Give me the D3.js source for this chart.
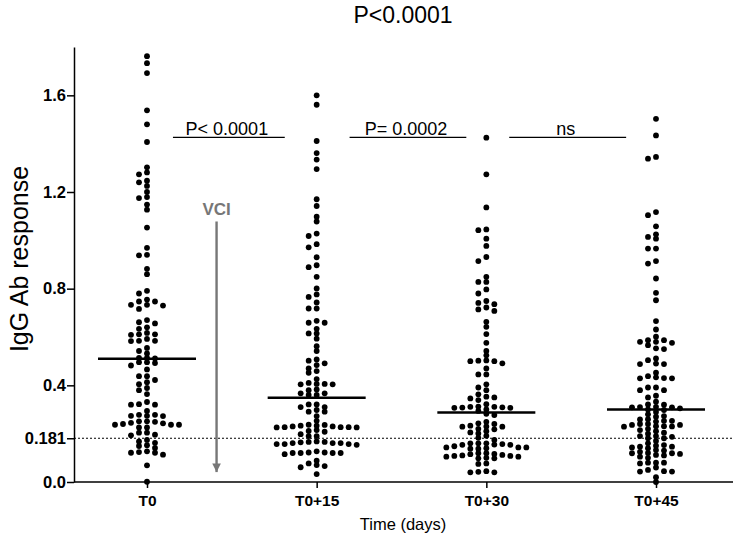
<!DOCTYPE html>
<html><head><meta charset="utf-8">
<script src="https://cdn.jsdelivr.net/npm/d3@7"></script>
<style>
body{margin:0;background:#fff}
svg{display:block}
text{font-family:"Liberation Sans",Arial,sans-serif}
</style>
</head><body>
<svg id="c" width="733" height="539"></svg>
<script>
const categories = ["T0", "T0+15", "T0+30", "T0+45"];

const valuesT0 = [1.762,1.733,1.692,1.538,1.480,1.407,1.302,1.281,1.273,1.247,1.240,1.225,1.200,1.179,1.175,1.148,1.127,1.053,0.969,0.940,0.938,0.882,0.860,0.791,0.780,0.755,0.747,0.747,0.733,0.733,0.730,0.716,0.670,0.661,0.656,0.640,0.634,0.617,0.611,0.611,0.609,0.592,0.584,0.584,0.583,0.555,0.542,0.532,0.514,0.514,0.511,0.496,0.496,0.492,0.482,0.466,0.438,0.438,0.422,0.413,0.405,0.389,0.380,0.364,0.331,0.322,0.320,0.320,0.294,0.278,0.278,0.274,0.274,0.273,0.251,0.251,0.249,0.245,0.243,0.240,0.237,0.237,0.237,0.226,0.226,0.204,0.204,0.196,0.193,0.174,0.168,0.162,0.152,0.149,0.141,0.127,0.124,0.121,0.121,0.113,0.069,0.001];

const valuesT15 = [1.600,1.561,1.411,1.361,1.334,1.295,1.170,1.142,1.098,1.078,1.028,1.018,0.984,0.971,0.930,0.897,0.889,0.849,0.801,0.776,0.766,0.743,0.718,0.718,0.659,0.659,0.667,0.634,0.615,0.593,0.615,0.562,0.542,0.502,0.507,0.491,0.484,0.470,0.459,0.452,0.426,0.406,0.404,0.404,0.406,0.410,0.383,0.380,0.367,0.360,0.360,0.367,0.321,0.310,0.298,0.291,0.291,0.310,0.321,0.273,0.253,0.236,0.233,0.230,0.227,0.227,0.226,0.227,0.226,0.230,0.233,0.237,0.208,0.198,0.211,0.215,0.190,0.190,0.164,0.161,0.157,0.161,0.166,0.157,0.154,0.157,0.161,0.166,0.168,0.122,0.120,0.127,0.120,0.120,0.120,0.122,0.115,0.088,0.070,0.066,0.077,0.061,0.033];

const valuesT30 = [1.425,1.273,1.136,1.045,1.042,1.007,0.977,0.931,0.914,0.849,0.828,0.828,0.797,0.780,0.749,0.741,0.736,0.722,0.714,0.708,0.663,0.642,0.612,0.576,0.542,0.524,0.503,0.500,0.491,0.502,0.470,0.445,0.445,0.404,0.391,0.380,0.363,0.353,0.339,0.346,0.500,0.350,0.322,0.311,0.309,0.307,0.307,0.311,0.312,0.308,0.300,0.277,0.294,0.282,0.249,0.243,0.233,0.218,0.229,0.229,0.201,0.205,0.191,0.183,0.240,0.230,0.220,0.210,0.174,0.160,0.160,0.157,0.154,0.154,0.160,0.143,0.143,0.140,0.138,0.138,0.143,0.155,0.148,0.110,0.108,0.105,0.119,0.116,0.119,0.098,0.098,0.105,0.112,0.115,0.100,0.108,0.077,0.075,0.045,0.040,0.040,0.042];

const valuesT45 = [1.503,1.434,1.338,1.345,1.117,1.104,1.058,1.014,1.007,1.025,0.966,0.966,0.914,0.904,0.842,0.783,0.752,0.666,0.631,0.580,0.601,0.587,0.587,0.566,0.553,0.576,0.511,0.504,0.488,0.488,0.452,0.438,0.429,0.429,0.433,0.391,0.380,0.391,0.357,0.332,0.321,0.311,0.309,0.305,0.298,0.309,0.273,0.259,0.253,0.253,0.236,0.231,0.204,0.236,0.229,0.231,0.215,0.190,0.181,0.181,0.187,0.143,0.132,0.119,0.146,0.146,0.153,0.112,0.105,0.119,0.116,0.125,0.080,0.080,0.077,0.050,0.043,0.043,0.000,0.580,0.490,0.430,0.380,0.310,0.300,0.320,0.260,0.250,0.230,0.220,0.240,0.200,0.190,0.150,0.140,0.120,0.130,0.110,0.080,0.045,0.020,0.550,0.350,0.290,0.280,0.270,0.240,0.210,0.170,0.160,0.100,0.060];

const groupValues = [valuesT0, valuesT15, valuesT30, valuesT45];
const groupMeans = [0.510, 0.349, 0.288, 0.300];

const yTicks = [0, 0.181, 0.4, 0.8, 1.2, 1.6];
const yTickLabels = ["0.0", "0.181", "0.4", "0.8", "1.2", "1.6"];
const cutoff = 0.181;

const compLabels = ["P< 0.0001", "P= 0.0002", "ns"];
const compStart = [0.153, 1.194, 2.135];
const compEnd = [0.812, 1.882, 2.824];
const compValue = 1.426;

const titleText = "P<0.0001";
const yLabel = "IgG Ab response";
const xLabel = "Time (days)";
const arrowLabel = "VCI";
const arrowPos = 0.41;
const arrowFrom = 1.078, arrowTo = 0.041;

// ---- layout ----
const svg = d3.select("#c");
const mLeft = 74, mRight = 733, mTop = 47, mBottom = 482;

const y = d3.scaleLinear().domain([0, 1.8]).range([mBottom, mTop]);
const x = d3.scalePoint().domain(categories).range([147, 656]);
const xl = d3.scaleLinear().domain([0, categories.length - 1]).range([147, 656]);

// cutoff dotted line
svg.append("line")
  .attr("x1", mLeft).attr("x2", mRight)
  .attr("y1", y(cutoff)).attr("y2", y(cutoff))
  .attr("stroke", "#000").attr("stroke-width", 1.1)
  .attr("stroke-dasharray", "2,2");

// axes
const yAxis = d3.axisLeft(y).tickValues(yTicks)
  .tickFormat((d, i) => yTickLabels[i]).tickSize(7).tickPadding(1).tickSizeOuter(0);
const gy = svg.append("g").attr("transform", `translate(${mLeft},0)`).call(yAxis);
gy.select(".domain").attr("stroke-width", 1.5);
gy.selectAll(".tick line").attr("stroke-width", 1.5);
gy.selectAll("text").attr("font-size", 16.5).attr("font-weight", "bold")
  .attr("font-family", "'Liberation Sans', Arial, sans-serif").attr("fill", "#000");

const xAxis = d3.axisBottom(x).tickSize(6).tickPadding(7).tickSizeOuter(0);
const gx = svg.append("g").attr("transform", `translate(0,${mBottom})`).call(xAxis);
gx.select(".domain").attr("d", `M${mLeft},0H${mRight}`).attr("stroke-width", 1.5);
gx.selectAll(".tick line").attr("stroke-width", 1.5);
gx.selectAll("text").attr("font-size", 15.5).attr("font-weight", "bold")
  .attr("font-family", "'Liberation Sans', Arial, sans-serif").attr("fill", "#000");

// swarm layout on fixed horizontal grid
function swarm(vals) {
  const step = 8, minDy = 4.2;
  const cols = new Map();
  const pts = vals.map(v => ({ v, py: y(v) })).sort((a, b) => b.v - a.v);
  pts.forEach(p => {
    for (let k = 0; k < 60; k++) {
      const off = k === 0 ? 0 : (k % 2 ? -Math.ceil(k / 2) : Math.ceil(k / 2));
      const list = cols.get(off) || [];
      if (list.every(yy => Math.abs(yy - p.py) >= minDy)) {
        list.push(p.py); cols.set(off, list); p.dx = off * step; break;
      }
    }
  });
  return pts;
}

groupValues.forEach((vals, gi) => {
  const cx = x(categories[gi]);
  const pts = swarm(vals);
  svg.append("g").selectAll("circle").data(pts).join("circle")
    .attr("cx", d => cx + d.dx).attr("cy", d => d.py).attr("r", 2.9).attr("fill", "#000");
  svg.append("line")
    .attr("x1", cx - 49).attr("x2", cx + 49)
    .attr("y1", y(groupMeans[gi])).attr("y2", y(groupMeans[gi]))
    .attr("stroke", "#000").attr("stroke-width", 2.5);
});

// comparison bars
compLabels.forEach((lab, i) => {
  const x1 = xl(compStart[i]), x2 = xl(compEnd[i]), yy = y(compValue);
  svg.append("line").attr("x1", x1).attr("x2", x2).attr("y1", yy).attr("y2", yy)
    .attr("stroke", "#000").attr("stroke-width", 1.2);
  svg.append("text").attr("x", (x1 + x2) / 2 - 2).attr("y", yy - 2)
    .attr("text-anchor", "middle").attr("font-size", 18).text(lab);
});

// VCI arrow
const ax = xl(arrowPos);
svg.append("defs").append("marker").attr("id", "ah")
  .attr("viewBox", "0 0 10 10").attr("refX", 10).attr("refY", 5)
  .attr("markerWidth", 3.6).attr("markerHeight", 3.6).attr("orient", "auto")
  .attr("markerUnits", "strokeWidth")
  .append("path").attr("d", "M0,0L10,5L0,10Z").attr("fill", "#777");
svg.append("line").attr("x1", ax).attr("x2", ax)
  .attr("y1", y(arrowFrom)).attr("y2", y(arrowTo))
  .attr("stroke", "#777").attr("stroke-width", 2.4).attr("marker-end", "url(#ah)");
svg.append("text").attr("x", ax).attr("y", y(arrowFrom) - 6)
  .attr("text-anchor", "middle").attr("font-size", 17).attr("font-weight", "bold")
  .attr("fill", "#777").text(arrowLabel);

// titles
svg.append("text").attr("x", 403).attr("y", 23).attr("text-anchor", "middle")
  .attr("font-size", 23).text(titleText);
svg.append("text").attr("x", 403).attr("y", 530).attr("text-anchor", "middle")
  .attr("font-size", 16.5).text(xLabel);
svg.append("text").attr("transform", "translate(28,259) rotate(-90)")
  .attr("text-anchor", "middle").attr("font-size", 25).text(yLabel);
</script>
</body></html>
